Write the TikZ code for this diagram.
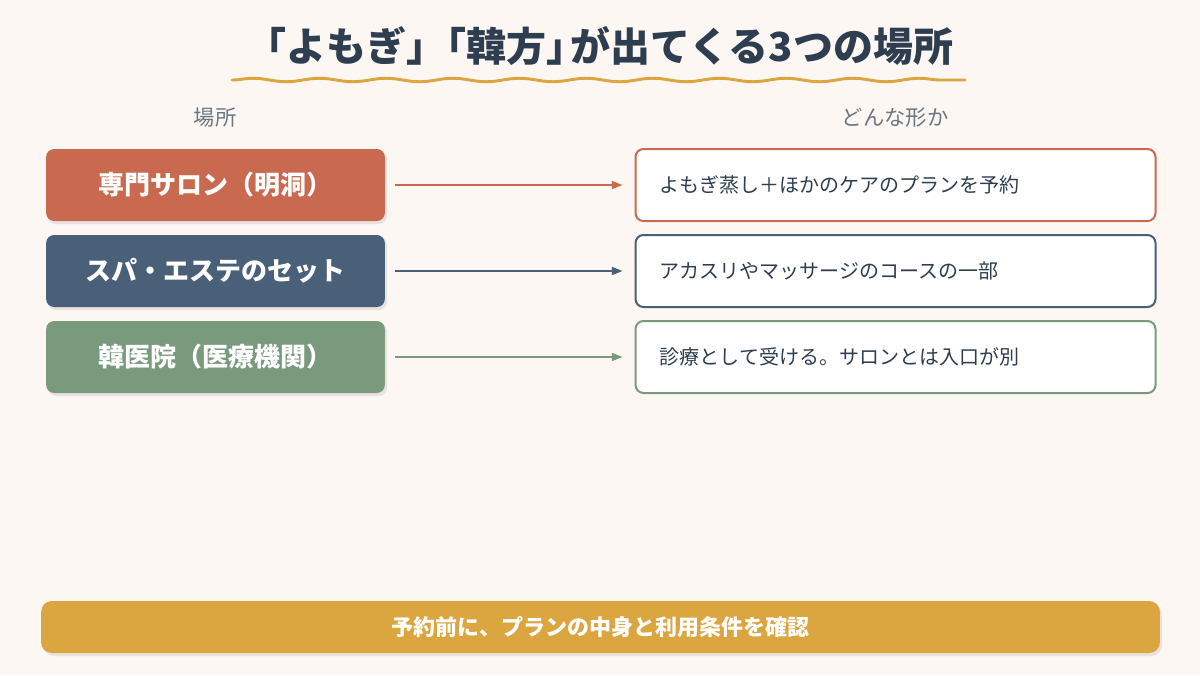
\documentclass[tikz,border=0pt]{standalone}
\usepackage{fontspec}
\setmainfont{Noto Sans CJK JP}
\usetikzlibrary{decorations.pathmorphing,arrows.meta}
\definecolor{bg}{HTML}{FCF7F2}
\definecolor{navy}{HTML}{2E3E50}
\definecolor{grayt}{HTML}{6B7785}
\definecolor{cA}{HTML}{C96A50}
\definecolor{cB}{HTML}{4A5F78}
\definecolor{cC}{HTML}{7A9A7E}
\definecolor{gold}{HTML}{DBA540}
\begin{document}
\begin{tikzpicture}[x=0.75pt,y=-0.75pt,
 lbox/.style={rounded corners=6pt,minimum width=254pt,minimum height=54pt,text=white,font=\fontsize{19.5}{22}\selectfont\bfseries,inner sep=0pt},
 rbox/.style={rounded corners=6pt,draw,line width=1.5pt,fill=white,minimum width=390pt,minimum height=54pt,inner sep=0pt},
 rtext/.style={anchor=west,text=navy,font=\fontsize{15}{17}\selectfont},
 arr/.style={line width=1.3pt,-{Triangle[length=8pt,width=6pt]}},
 hdr/.style={text=grayt,font=\fontsize{16}{18}\selectfont}]
\fill[bg] (0,0) rectangle (1200,675);
\useasboundingbox (0,0) rectangle (1200,675);
\node[text=navy,font=\fontsize{30}{34}\selectfont\bfseries] (title) at (600,46) {「よもぎ」\hspace{-0.5em}「韓方」\hspace{-0.4em}が出てくる3つの場所};
\draw[gold,line width=2.2pt,line cap=round,decoration={snake,amplitude=1.3pt,segment length=50pt}] decorate {(232,80) -- (965,80)};
\node[hdr] (h1) at (215,118) {場所};
\node[hdr] (h2) at (895,118) {どんな形か};
\foreach \n/\y/\c/\l/\r in {a/185/cA/専門サロン（明洞）/よもぎ蒸し＋ほかのケアのプランを予約,
 b/271/cB/スパ・エステのセット/アカスリやマッサージのコースの一部,
 c/357/cC/韓医院（医療機関）/診療として受ける。サロンとは入口が別}{
 \fill[black,opacity=0.08,rounded corners=6pt] (48,\y-34) rectangle (387,\y+39);
 \node[lbox,fill=\c] (L\n) at (215.5,\y) {\l};
 \node[rbox,draw=\c] (R\n) at (895.5,\y) {};
 \node[rtext] (T\n) at (655,\y) {\r};
 \draw[arr,\c] (L\n.east) ++(10,0) -- ([xshift=-9pt]R\n.west);
}
\fill[black,opacity=0.08,rounded corners=8pt] (43,604) rectangle (1162,656);
\node[fill=gold,rounded corners=8pt,minimum width=839pt,minimum height=39pt,text=white,font=\fontsize{16.5}{20}\selectfont\bfseries] (bar) at (600.5,627) {予約前に、プランの中身と利用条件を確認};
\end{tikzpicture}
\end{document}
